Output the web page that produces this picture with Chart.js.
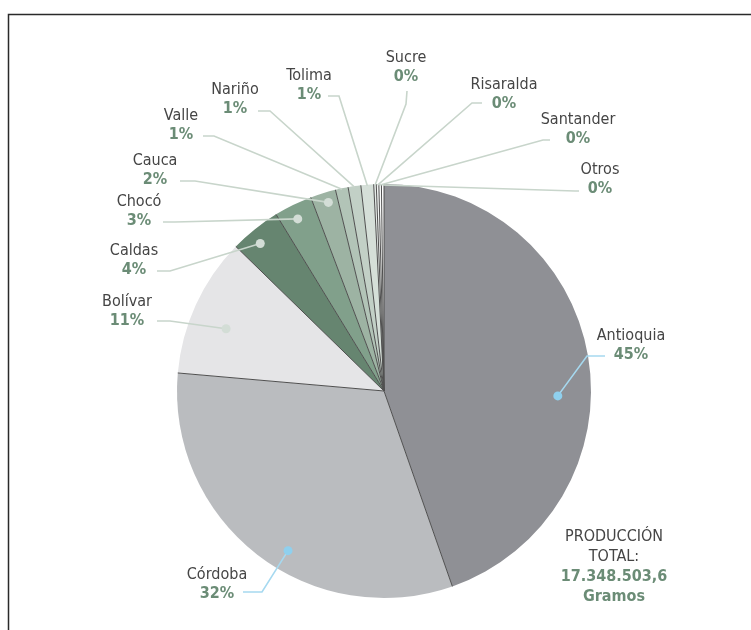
<!DOCTYPE html>
<html lang="es">
<head>
<meta charset="utf-8">
<title>Producción por departamento</title>
<script src="https://cdn.jsdelivr.net/npm/chart.js@4.4.0/dist/chart.umd.min.js"></script>
<style>
  html, body { margin: 0; padding: 0; background: #fff; }
  #wrap { width: 751px; height: 630px; }
</style>
</head>
<body>
<div id="wrap"><canvas id="pieChart" width="751" height="630"></canvas></div>
<script>
// Departments and their share of production (%)
const departamentos = ["Antioquia", "Córdoba", "Bolívar", "Caldas", "Chocó", "Cauca",
  "Valle", "Nariño", "Tolima", "Sucre", "Risaralda", "Santander", "Otros"];
const participacion = [45, 32, 11, 4, 3, 2, 1, 1, 1, 0.2, 0.2, 0.2, 0.2];
const colores = ["#8f9095", "#babcbf", "#e5e5e7", "#668570", "#81a08b", "#9db3a3",
  "#b2c4b7", "#c2d0c6", "#d5dfd8", "#e6ece8", "#f1f4f2", "#fafbfa", "#ffffff"];
const totalTitulo = ["PRODUCCIÓN", "TOTAL:"];
const totalValor = ["17.348.503,6", "Gramos"];

const FONT = '"Liberation Sans Narrow", "DejaVu Sans Condensed", Roboto, sans-serif';
const GRAY_TEXT = "#454545";
const GREEN_TEXT = "#6b8c76";
const LEADER_GREEN = "#c8d5cb";
const LEADER_BLUE = "#a6d9f0";

// label placement: name centre, leader start + elbow, optional dot [angle fraction, radius fraction]
const etiquetas = [
  { x: 631, y: 336, line: [[605, 356], [587, 356]], dot: [0.57, 0.84], blue: true },
  { x: 217, y: 575, line: [[243, 592], [262, 592]], dot: [0.44, 0.9], blue: true },
  { x: 127, y: 302, line: [[157, 321], [170, 321]], dot: [0.42, 0.82] },
  { x: 134, y: 251, line: [[157, 271], [170, 271]], dot: [0.4, 0.93] },
  { x: 139, y: 202, line: [[163, 222], [175, 222]], dot: [0.45, 0.93] },
  { x: 155, y: 161, line: [[180, 181], [195, 181]], dot: [0.6, 0.95] },
  { x: 181, y: 116, line: [[203, 136], [214, 136]] },
  { x: 235, y: 90, line: [[258, 111], [270, 111]] },
  { x: 309, y: 76, line: [[328, 96], [339, 96]] },
  { x: 406, y: 58, line: [[407, 91], [406, 104]] },
  { x: 504, y: 85, line: [[482, 103], [472, 103]] },
  { x: 578, y: 120, line: [[550, 140], [543, 140]] },
  { x: 600, y: 170, line: [[579, 191], [575, 191]] },
];

// Draws slice separators, leader lines, labels, total and frame
const pieExtras = {
  id: "pieExtras",
  afterDatasetsDraw(chart) {
    const ctx = chart.ctx;
    const arcs = chart.getDatasetMeta(0).data;
    ctx.save();

    // radial separators between slices
    ctx.strokeStyle = "#4f4f4f";
    ctx.lineWidth = 1;
    arcs.forEach((arc) => {
      const p = arc.getProps(["x", "y", "startAngle", "outerRadius"], true);
      ctx.beginPath();
      ctx.moveTo(p.x, p.y);
      ctx.lineTo(p.x + p.outerRadius * Math.cos(p.startAngle), p.y + p.outerRadius * Math.sin(p.startAngle));
      ctx.stroke();
    });

    // leader lines and dots
    arcs.forEach((arc, i) => {
      const p = arc.getProps(["x", "y", "startAngle", "endAngle", "outerRadius"], true);
      const lab = etiquetas[i];
      let ang, r;
      if (lab.dot) {
        ang = p.startAngle + lab.dot[0] * (p.endAngle - p.startAngle);
        r = lab.dot[1] * p.outerRadius;
      } else {
        ang = (p.startAngle + p.endAngle) / 2;
        r = p.outerRadius - 1;
      }
      const ax = p.x + r * Math.cos(ang);
      const ay = p.y + r * Math.sin(ang);
      const col = lab.blue ? LEADER_BLUE : LEADER_GREEN;
      ctx.strokeStyle = col;
      ctx.lineWidth = 1.6;
      ctx.beginPath();
      ctx.moveTo(lab.line[0][0], lab.line[0][1]);
      ctx.lineTo(lab.line[1][0], lab.line[1][1]);
      ctx.lineTo(ax, ay);
      ctx.stroke();
      if (lab.dot) {
        ctx.fillStyle = lab.blue ? "#8fd0ee" : "#d3ddd6";
        ctx.beginPath();
        ctx.arc(ax, ay, 4.5, 0, Math.PI * 2);
        ctx.fill();
      }
    });

    // labels: name + rounded percentage
    ctx.textAlign = "center";
    ctx.textBaseline = "middle";
    departamentos.forEach((name, i) => {
      const lab = etiquetas[i];
      ctx.font = "16px " + FONT;
      ctx.fillStyle = GRAY_TEXT;
      ctx.fillText(name, lab.x, lab.y);
      ctx.font = "bold 16px " + FONT;
      ctx.fillStyle = GREEN_TEXT;
      ctx.fillText(Math.round(participacion[i]) + "%", lab.x, lab.y + 19);
    });

    // production total block
    ctx.font = "16px " + FONT;
    ctx.fillStyle = GRAY_TEXT;
    ctx.fillText(totalTitulo[0], 614, 537);
    ctx.fillText(totalTitulo[1], 614, 557);
    ctx.font = "bold 16px " + FONT;
    ctx.fillStyle = GREEN_TEXT;
    ctx.fillText(totalValor[0], 614, 577);
    ctx.fillText(totalValor[1], 614, 597);

    // frame
    ctx.strokeStyle = "#2a2a2a";
    ctx.lineWidth = 1.5;
    ctx.beginPath();
    ctx.moveTo(8.5, 630);
    ctx.lineTo(8.5, 14.5);
    ctx.lineTo(751, 14.5);
    ctx.stroke();

    ctx.restore();
  },
};

const pieCtx = document.getElementById("pieChart").getContext("2d");
const pieChart = new Chart(pieCtx, {
  type: "pie",
  data: {
    labels: departamentos,
    datasets: [
      {
        data: participacion,
        backgroundColor: colores,
        borderWidth: 0,
      },
    ],
  },
  options: {
    responsive: false,
    animation: false,
    layout: {
      padding: { left: 177, right: 160, top: 184, bottom: 32 },
    },
    plugins: {
      legend: { display: false },
      tooltip: { enabled: false },
    },
  },
  plugins: [pieExtras],
});
</script>
</body>
</html>
